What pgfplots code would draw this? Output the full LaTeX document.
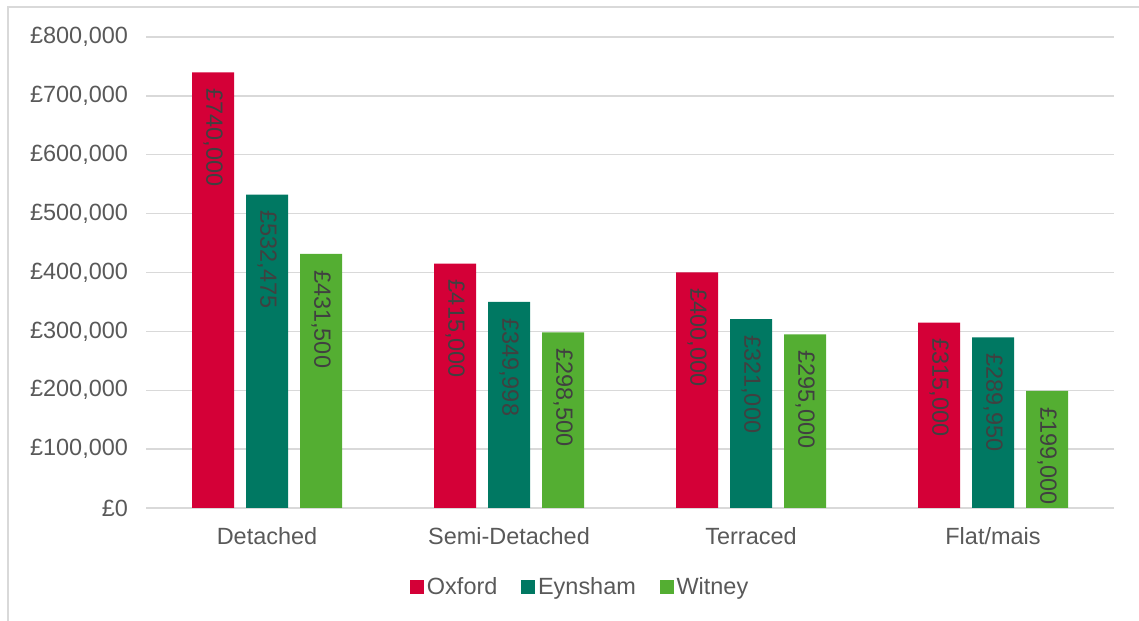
\documentclass[border=0pt]{standalone}
\usepackage{fontspec}
\setmainfont{Liberation Sans}
\usepackage{pgfplots}
\pgfplotsset{compat=1.18}
\definecolor{oxf}{RGB}{212,0,55}
\definecolor{eyn}{RGB}{0,120,98}
\definecolor{wit}{RGB}{84,174,50}
\definecolor{gridc}{RGB}{217,217,217}
\definecolor{tickc}{RGB}{89,89,89}
\definecolor{labc}{RGB}{64,64,64}
\begin{document}
\begin{tikzpicture}
\useasboundingbox (0,0) rectangle (854.25pt,465.75pt);
\draw[gridc, line width=1pt] (6pt,0pt) -- (6pt,460.5pt) -- (854.25pt,460.5pt);
\begin{axis}[
  at={(109.5pt,84.75pt)}, anchor=south west,
  scale only axis, width=726pt, height=353.25pt,
  ybar=9pt, bar width=31.5pt,
  xmin=-0.5, xmax=3.5, ymin=0, ymax=800000,
  xtick={0,1,2,3},
  xticklabels={Detached,Semi-Detached,Terraced,Flat/mais},
  ytick={0,100000,...,800000},
  scaled y ticks=false,
  yticklabel={£\pgfmathprintnumber[fixed,precision=0,1000 sep={,}]{\tick}},
  /pgf/number format/assume math mode=true,
  major tick length=0pt,
  axis line style={draw=none},
  axis x line*=bottom,
  ymajorgrids, grid style={gridc, line width=1.1pt},
  tick label style={font=\fontsize{17.6}{20}\selectfont, text=tickc},
  yticklabel style={xshift=-10pt},
  xticklabel style={yshift=-11pt},
  nodes near coords={£\pgfmathprintnumber[fixed,precision=0,1000 sep={,},assume math mode=true]{\pgfplotspointmeta}},
  nodes near coords align={horizontal},
  every node near coord/.append style={rotate=-90, anchor=west, inner xsep=12pt, inner ysep=0pt, font=\fontsize{17.6}{20}\selectfont, text=labc},
  legend columns=-1,
  legend style={at={(0.449,-0.168)}, anchor=center, draw=none, fill=none,
    font=\fontsize{17.6}{20}\selectfont, text=tickc,
    /tikz/every even column/.append style={column sep=16pt},
    nodes={inner xsep=2pt}},
  legend image code/.code={\fill[#1] (0pt,-5.25pt) rectangle (10.5pt,5.25pt);},
]
\addplot[fill=oxf, draw=none] coordinates {(0,740000) (1,415000) (2,400000) (3,315000)};
\addplot[fill=eyn, draw=none] coordinates {(0,532475) (1,349998) (2,321000) (3,289950)};
\addplot[fill=wit, draw=none] coordinates {(0,431500) (1,298500) (2,295000) (3,199000)};
\legend{Oxford,Eynsham,Witney}
\end{axis}
\end{tikzpicture}
\end{document}
